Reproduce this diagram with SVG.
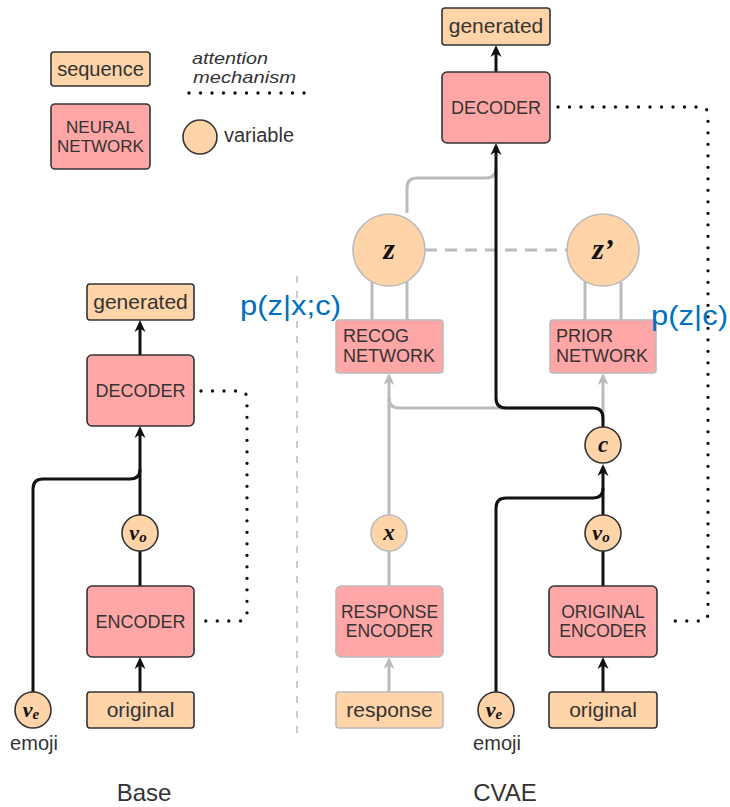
<svg xmlns="http://www.w3.org/2000/svg" width="730" height="807" viewBox="0 0 730 807">
<defs>
<style>
.seq{fill:#FFD4A8;stroke:#333;stroke-width:1.6}
.seqg{fill:#FFD4A8;stroke:#bbb;stroke-width:1.6}
.nn{fill:#FFA6A6;stroke:#333;stroke-width:1.6}
.nng{fill:#FFA6A6;stroke:#bbb;stroke-width:1.6}
.var{fill:#FFD4A8;stroke:#333;stroke-width:1.6}
.varg{fill:#FFD4A8;stroke:#bbb;stroke-width:1.6}
.t{font-family:"Liberation Sans",Arial,sans-serif;fill:#333}
.c{text-anchor:middle}
.m{font-family:"Liberation Serif","Times New Roman",serif;font-style:italic;font-weight:bold;fill:#111;text-anchor:middle}
.blk{fill:none;stroke:#111;stroke-width:3}
.gry{fill:none;stroke:#bbb;stroke-width:3}
.dot{fill:none;stroke:#111;stroke-width:3.4;stroke-linecap:round;stroke-dasharray:0 11.5}
.blue{font-family:"Liberation Sans",Arial,sans-serif;fill:#0070C0;font-size:27px}
</style>
<marker id="ab" viewBox="0 0 14 14" markerWidth="14" markerHeight="14" refX="9" refY="7" orient="auto" markerUnits="userSpaceOnUse">
<path d="M1,1.5 L13,7 L1,12.5 L4.5,7 z" fill="#111"/>
</marker>
<marker id="ag" viewBox="0 0 14 14" markerWidth="14" markerHeight="14" refX="9" refY="7" orient="auto" markerUnits="userSpaceOnUse">
<path d="M1,1.5 L13,7 L1,12.5 L4.5,7 z" fill="#bbb"/>
</marker>
</defs>
<rect width="730" height="807" fill="#fff"/>

<!-- legend -->
<g id="legend">
<rect class="seq" x="51" y="52" width="99" height="34" rx="3"/>
<text class="t c" x="100.5" y="76" font-size="20">sequence</text>
<rect class="nn" x="51" y="104" width="99" height="65" rx="4"/>
<text class="t c" x="100.5" y="133" font-size="17">NEURAL</text>
<text class="t c" x="100.5" y="152" font-size="17">NETWORK</text>
<text class="t" x="192" y="64" font-size="17" font-style="italic" textLength="76" lengthAdjust="spacingAndGlyphs">attention</text>
<text class="t" x="193" y="83" font-size="17" font-style="italic" textLength="103" lengthAdjust="spacingAndGlyphs">mechanism</text>
<path class="dot" d="M189,93 L307,93"/>
<circle class="var" cx="200" cy="137" r="17"/>
<text class="t" x="224" y="142" font-size="20">variable</text>
</g>

<!-- divider -->
<path d="M297,276 L297,733" stroke="#ccc" stroke-width="2" stroke-dasharray="7 8" fill="none"/>

<!-- connectors -->
<g id="connectors">
<!-- base -->
<path class="blk" d="M140,355 L140,324" marker-end="url(#ab)"/>
<path class="blk" d="M140,515 L140,430" marker-end="url(#ab)"/>
<path class="blk" d="M33,692 L33,489 Q33,479 43,479 L130,479 Q140,479 140,469"/>
<path class="blk" d="M140,586 L140,551"/>
<path class="blk" d="M140,692 L140,661" marker-end="url(#ab)"/>
<path class="dot" d="M201,391 L239,391 Q247,391 247,399 L247,613 Q247,621 239,621 L201,621"/>
<!-- cvae gray -->
<path class="gry" d="M407,213 L407,188 Q407,178 417,178 L486,178 Q496,178 496,168"/>
<path class="gry" d="M372,282 L372,320 M407,282 L407,320"/>
<path class="gry" d="M585,282 L585,320 M621,282 L621,320"/>
<path d="M425,250 L567,250" stroke="#bbb" stroke-width="3" stroke-dasharray="12 8" fill="none"/>
<path class="gry" d="M603,420 L603,377" marker-end="url(#ag)"/>
<path class="gry" d="M593,408 L399,408 Q389,408 389,398"/>
<path class="gry" d="M389,515 L389,377" marker-end="url(#ag)"/>
<path class="gry" d="M389,586 L389,551"/>
<path class="gry" d="M389,692 L389,661" marker-end="url(#ag)"/>
<!-- cvae black -->
<path class="blk" d="M496,72 L496,49" marker-end="url(#ab)"/>
<path class="blk" d="M603,427 L603,418 Q603,408 593,408 L506,408 Q496,408 496,398 L496,147" marker-end="url(#ab)"/>
<path class="blk" d="M496,692 L496,508 Q496,498 506,498 L593,498 Q603,498 603,488"/>
<path class="blk" d="M603,515 L603,468" marker-end="url(#ab)"/>
<path class="blk" d="M603,586 L603,551"/>
<path class="blk" d="M603,692 L603,661" marker-end="url(#ab)"/>
<path class="dot" d="M558,107 L700,107 Q708,107 708,115 L708,613 Q708,621 700,621 L664,621"/>
</g>

<!-- Base nodes -->
<g id="base-generated">
<rect class="seq" x="87" y="284" width="107" height="36" rx="3"/>
<text class="t c" x="140.5" y="309" font-size="21">generated</text>
</g>
<g id="base-decoder">
<rect class="nn" x="87" y="355" width="107" height="71" rx="5"/>
<text class="t c" x="140.5" y="397" font-size="18">DECODER</text>
</g>
<g id="base-vo">
<circle class="var" cx="140" cy="533" r="18"/>
<text class="m" x="138" y="540" font-size="22">v<tspan font-size="15" dy="2">o</tspan></text>
</g>
<g id="base-encoder">
<rect class="nn" x="87" y="586" width="107" height="71" rx="5"/>
<text class="t c" x="140.5" y="628" font-size="18">ENCODER</text>
</g>
<g id="base-original">
<rect class="seq" x="87" y="692" width="107" height="36" rx="3"/>
<text class="t c" x="140.5" y="717" font-size="21">original</text>
</g>
<g id="base-ve">
<circle class="var" cx="33" cy="710" r="18"/>
<text class="m" x="31" y="717" font-size="22">v<tspan font-size="15" dy="2">e</tspan></text>
<text class="t c" x="34" y="750" font-size="20">emoji</text>
</g>
<text class="t c" x="144" y="801" font-size="24" fill="#111">Base</text>

<!-- CVAE nodes -->
<g id="cvae-generated">
<rect class="seq" x="442" y="8" width="108" height="37" rx="3"/>
<text class="t c" x="496" y="33" font-size="21">generated</text>
</g>
<g id="cvae-decoder">
<rect class="nn" x="442" y="72" width="108" height="71" rx="5"/>
<text class="t c" x="496" y="114" font-size="18">DECODER</text>
</g>
<g id="z">
<circle class="varg" cx="389" cy="250" r="36"/>
<text class="m" x="389" y="259" font-size="30">z</text>
</g>
<g id="zprime">
<circle class="varg" cx="603" cy="250" r="36"/>
<text class="m" x="603" y="259" font-size="30">z’</text>
</g>
<g id="recog">
<rect class="nng" x="336" y="320" width="107" height="53" rx="3"/>
<text class="t" x="343" y="342" font-size="18">RECOG</text>
<text class="t" x="343" y="362" font-size="18">NETWORK</text>
</g>
<g id="prior">
<rect class="nng" x="550" y="320" width="106" height="53" rx="3"/>
<text class="t" x="556" y="342" font-size="18">PRIOR</text>
<text class="t" x="556" y="362" font-size="18">NETWORK</text>
</g>
<g id="c">
<circle class="var" cx="603" cy="445" r="18"/>
<text class="m" x="603" y="452" font-size="23">c</text>
</g>
<g id="x">
<circle class="varg" cx="389" cy="533" r="18"/>
<text class="m" x="389" y="540" font-size="23">x</text>
</g>
<g id="cvae-vo">
<circle class="var" cx="603" cy="533" r="18"/>
<text class="m" x="601" y="540" font-size="22">v<tspan font-size="15" dy="2">o</tspan></text>
</g>
<g id="response-encoder">
<rect class="nng" x="336" y="586" width="107" height="71" rx="5"/>
<text class="t c" x="389.5" y="618" font-size="17.5">RESPONSE</text>
<text class="t c" x="389.5" y="637" font-size="17.5">ENCODER</text>
</g>
<g id="original-encoder">
<rect class="nn" x="549" y="586" width="108" height="71" rx="5"/>
<text class="t c" x="603" y="618" font-size="17.5">ORIGINAL</text>
<text class="t c" x="603" y="637" font-size="17.5">ENCODER</text>
</g>
<g id="response">
<rect class="seqg" x="336" y="692" width="107" height="36" rx="3"/>
<text class="t c" x="389.5" y="717" font-size="21">response</text>
</g>
<g id="cvae-ve">
<circle class="var" cx="496" cy="710" r="18"/>
<text class="m" x="494" y="717" font-size="22">v<tspan font-size="15" dy="2">e</tspan></text>
<text class="t c" x="497" y="750" font-size="20">emoji</text>
</g>
<g id="cvae-original">
<rect class="seq" x="549" y="692" width="108" height="36" rx="3"/>
<text class="t c" x="603" y="717" font-size="21">original</text>
</g>
<text class="t c" x="505" y="801" font-size="24" fill="#111">CVAE</text>

<text class="blue" x="240" y="315" textLength="101" lengthAdjust="spacingAndGlyphs">p(z|x;c)</text>
<text class="blue" x="651" y="325" textLength="77" lengthAdjust="spacingAndGlyphs">p(z|c)</text>
</svg>
